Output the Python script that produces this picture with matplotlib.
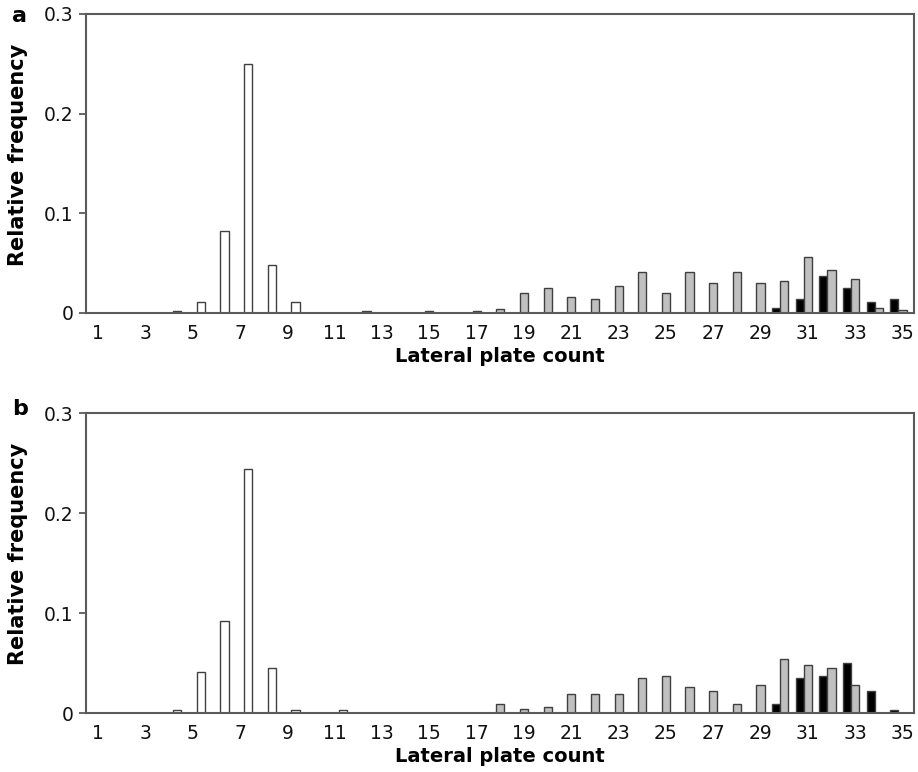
import matplotlib
matplotlib.use("Agg")
import matplotlib.pyplot as plt
import numpy as np

# lateral plate count categories
counts = np.arange(1, 36)

# panel a (relative frequencies, keyed by plate count)
a_white = {4: 0.002, 5: 0.011, 6: 0.082, 7: 0.250, 8: 0.048, 9: 0.011, 12: 0.002}
a_grey = {15: 0.002, 17: 0.002, 18: 0.004, 19: 0.020, 20: 0.025, 21: 0.016,
          22: 0.014, 23: 0.027, 24: 0.041, 25: 0.020, 26: 0.041, 27: 0.030,
          28: 0.041, 29: 0.030, 30: 0.032, 31: 0.056, 32: 0.043, 33: 0.034,
          34: 0.005, 35: 0.003}
a_black = {30: 0.005, 31: 0.014, 32: 0.037, 33: 0.025, 34: 0.011, 35: 0.014}

# panel b
b_white = {4: 0.003, 5: 0.041, 6: 0.092, 7: 0.244, 8: 0.045, 9: 0.003, 11: 0.003}
b_grey = {18: 0.009, 19: 0.004, 20: 0.006, 21: 0.019, 22: 0.019, 23: 0.019,
          24: 0.035, 25: 0.037, 26: 0.026, 27: 0.022, 28: 0.009, 29: 0.028,
          30: 0.054, 31: 0.048, 32: 0.045, 33: 0.028}
b_black = {30: 0.009, 31: 0.035, 32: 0.037, 33: 0.050, 34: 0.022, 35: 0.003}

y_ticks = [0, 0.1, 0.2, 0.3]
y_ticklabels = ["0", "0.1", "0.2", "0.3"]
x_ticks = counts[::2]

frame_colour = "#5a5a5a"
edge_colour = "#404040"
width = 0.345

fig = plt.figure(figsize=(9.18, 7.72), dpi=100)


def panel(rect, letter, letter_y, white, grey, black):
    ax = fig.add_axes(rect)
    series = [(black, -width, "black"), (grey, 0.0, "#c0c0c0"), (white, width, "white")]
    for data, off, col in series:
        x = np.array(list(data.keys()), dtype=float)
        y = np.array(list(data.values()))
        ax.bar(x + off, y, width=width, color=col, edgecolor=edge_colour,
               linewidth=1.0, zorder=2)
    ax.set_xlim(0.5, 35.5)
    ax.set_ylim(0, 0.3)
    ax.set_yticks(y_ticks)
    ax.set_yticklabels(y_ticklabels)
    ax.set_xticks(x_ticks)
    ax.tick_params(axis="x", length=0, pad=8, labelsize=13.5, colors="#111111")
    ax.tick_params(axis="y", length=5, width=1.3, color=frame_colour, pad=4,
                   labelsize=13.5, labelcolor="#111111")
    for s in ax.spines.values():
        s.set_color(frame_colour)
        s.set_linewidth(1.5)
        s.set_zorder(3)
    ax.set_ylabel("Relative frequency", fontsize=15, fontweight="bold")
    ax.yaxis.set_label_coords(-0.07, 0.53)
    ax.set_xlabel("Lateral plate count", fontsize=14, fontweight="bold", labelpad=3)
    fig.text(0.013, letter_y, letter, fontsize=16,
             fontweight="bold", va="baseline", ha="left")
    return ax


panel([0.094, 0.5946, 0.902, 0.3873], "a", 1 - 22 / 772, a_white, a_grey, a_black)
panel([0.094, 0.0764, 0.902, 0.3886], "b", 1 - 415 / 772, b_white, b_grey, b_black)

fig.savefig("out.png", dpi=100)
